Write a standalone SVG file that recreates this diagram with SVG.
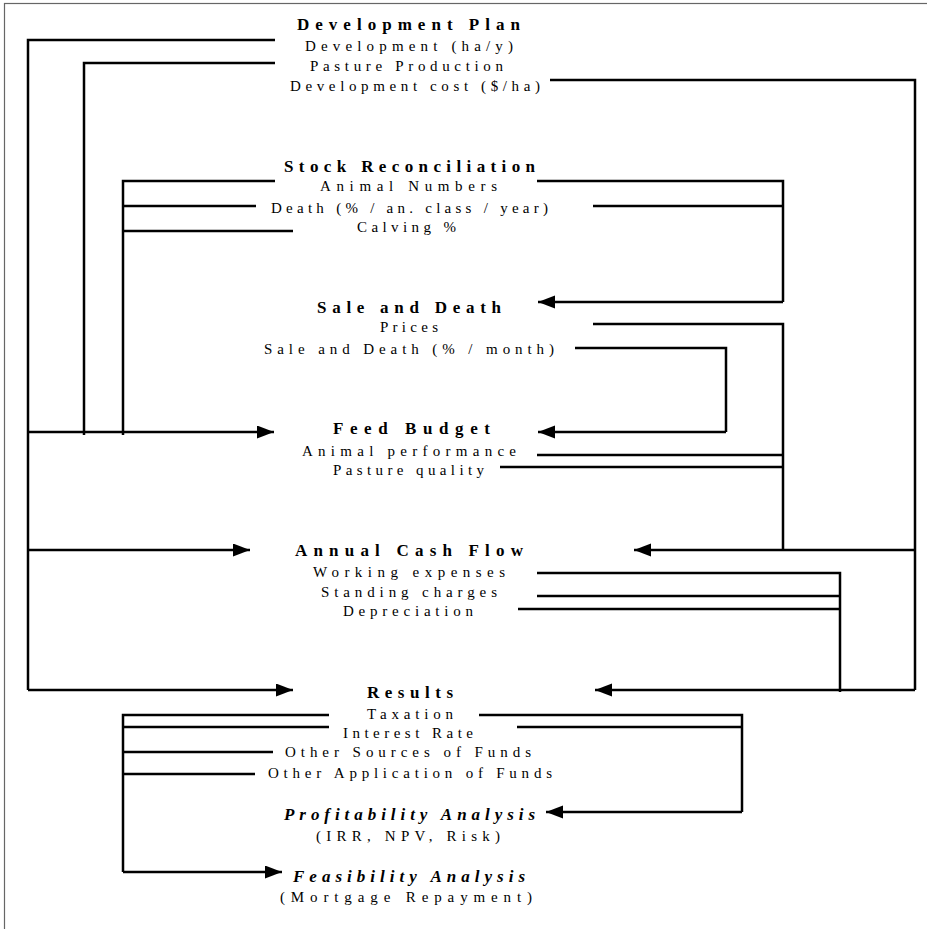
<svg xmlns="http://www.w3.org/2000/svg" width="927" height="929" viewBox="0 0 927 929">
<defs>
<style>
.t{font-family:"Liberation Serif","Times New Roman",serif;font-size:17px;font-weight:bold;fill:#000}
.ti{font-family:"Liberation Serif","Times New Roman",serif;font-size:17px;font-weight:bold;font-style:italic;fill:#000}
.s{font-family:"Liberation Serif","Times New Roman",serif;font-size:15px;fill:#000}
.c{fill:none;stroke:#000;stroke-width:2.5}
.a{marker-end:url(#ah)}
</style>
<marker id="ah" markerUnits="userSpaceOnUse" markerWidth="18" markerHeight="14" refX="17" refY="6.5" orient="auto">
<path d="M0,0 L17,6.5 L0,13 z" fill="#000"/>
</marker>
</defs>
<rect x="4.5" y="3.5" width="940" height="940" fill="#fff" stroke="#666" stroke-width="1.2"/>

<g id="connectors">
<path class="c" d="M275,40 H28 V690"/>
<path class="c a" d="M28,690 H293"/>
<path class="c a" d="M28,432 H274"/>
<path class="c a" d="M28,550 H250"/>
<path class="c" d="M275,63 H84 V435"/>
<path class="c" d="M550,80 H915 V690"/>
<path class="c a" d="M915,690 H595"/>
<path class="c a" d="M915,550 H634"/>
<path class="c" d="M275,181 H123 V435"/>
<path class="c" d="M256,206 H123"/>
<path class="c" d="M293,231 H123"/>
<path class="c" d="M537,181 H783 V302"/>
<path class="c a" d="M783,302 H538"/>
<path class="c" d="M593,206 H783"/>
<path class="c" d="M593,324 H783 V551"/>
<path class="c" d="M575,348 H726 V432"/>
<path class="c a" d="M726,432 H538"/>
<path class="c" d="M537,455 H783"/>
<path class="c" d="M500,467 H783"/>
<path class="c" d="M537,573 H840 V692"/>
<path class="c" d="M537,596 H840"/>
<path class="c" d="M518,609 H840"/>
<path class="c" d="M329,715 H123 V872"/>
<path class="c a" d="M123,872 H282"/>
<path class="c" d="M329,727 H123"/>
<path class="c" d="M273,752 H123"/>
<path class="c" d="M255,774 H123"/>
<path class="c" d="M479,715 H742 V812"/>
<path class="c a" d="M742,812 H546"/>
<path class="c" d="M517,727 H742"/>
</g>

<g id="development-plan">
<text class="t" x="297" y="30" textLength="223" lengthAdjust="spacing">Development Plan</text>
<text class="s" x="305" y="51" textLength="208" lengthAdjust="spacing">Development (ha/y)</text>
<text class="s" x="310" y="71" textLength="193" lengthAdjust="spacing">Pasture Production</text>
<text class="s" x="290" y="91" textLength="250" lengthAdjust="spacing">Development cost ($/ha)</text>
</g>

<g id="stock-reconciliation">
<text class="t" x="284" y="172" textLength="251" lengthAdjust="spacing">Stock Reconciliation</text>
<text class="s" x="320" y="191" textLength="177" lengthAdjust="spacing">Animal Numbers</text>
<text class="s" x="271" y="213" textLength="277" lengthAdjust="spacing">Death (% / an. class / year)</text>
<text class="s" x="357" y="232" textLength="99" lengthAdjust="spacing">Calving %</text>
</g>

<g id="sale-and-death">
<text class="t" x="317" y="313" textLength="184" lengthAdjust="spacing">Sale and Death</text>
<text class="s" x="380" y="332" textLength="58" lengthAdjust="spacing">Prices</text>
<text class="s" x="264" y="354" textLength="290" lengthAdjust="spacing">Sale and Death (% / month)</text>
</g>

<g id="feed-budget">
<text class="t" x="333" y="434" textLength="157" lengthAdjust="spacing">Feed Budget</text>
<text class="s" x="302" y="456" textLength="214" lengthAdjust="spacing">Animal performance</text>
<text class="s" x="333" y="475" textLength="151" lengthAdjust="spacing">Pasture quality</text>
</g>

<g id="annual-cash-flow">
<text class="t" x="295" y="556" textLength="228" lengthAdjust="spacing">Annual Cash Flow</text>
<text class="s" x="313" y="577" textLength="192" lengthAdjust="spacing">Working expenses</text>
<text class="s" x="321" y="597" textLength="176" lengthAdjust="spacing">Standing charges</text>
<text class="s" x="343" y="616" textLength="130" lengthAdjust="spacing">Depreciation</text>
</g>

<g id="results">
<text class="t" x="367" y="698" textLength="86" lengthAdjust="spacing">Results</text>
<text class="s" x="367" y="719" textLength="86" lengthAdjust="spacing">Taxation</text>
<text class="s" x="343" y="738" textLength="130" lengthAdjust="spacing">Interest Rate</text>
<text class="s" x="285" y="757" textLength="246" lengthAdjust="spacing">Other Sources of Funds</text>
<text class="s" x="268" y="778" textLength="284" lengthAdjust="spacing">Other Application of Funds</text>
</g>

<g id="profitability-analysis">
<text class="ti" x="284" y="820" textLength="251" lengthAdjust="spacing">Profitability Analysis</text>
<text class="s" x="316" y="841" textLength="184" lengthAdjust="spacing">(IRR, NPV, Risk)</text>
</g>

<g id="feasibility-analysis">
<text class="ti" x="293" y="882" textLength="232" lengthAdjust="spacing">Feasibility Analysis</text>
<text class="s" x="280" y="902" textLength="252" lengthAdjust="spacing">(Mortgage Repayment)</text>
</g>
</svg>
